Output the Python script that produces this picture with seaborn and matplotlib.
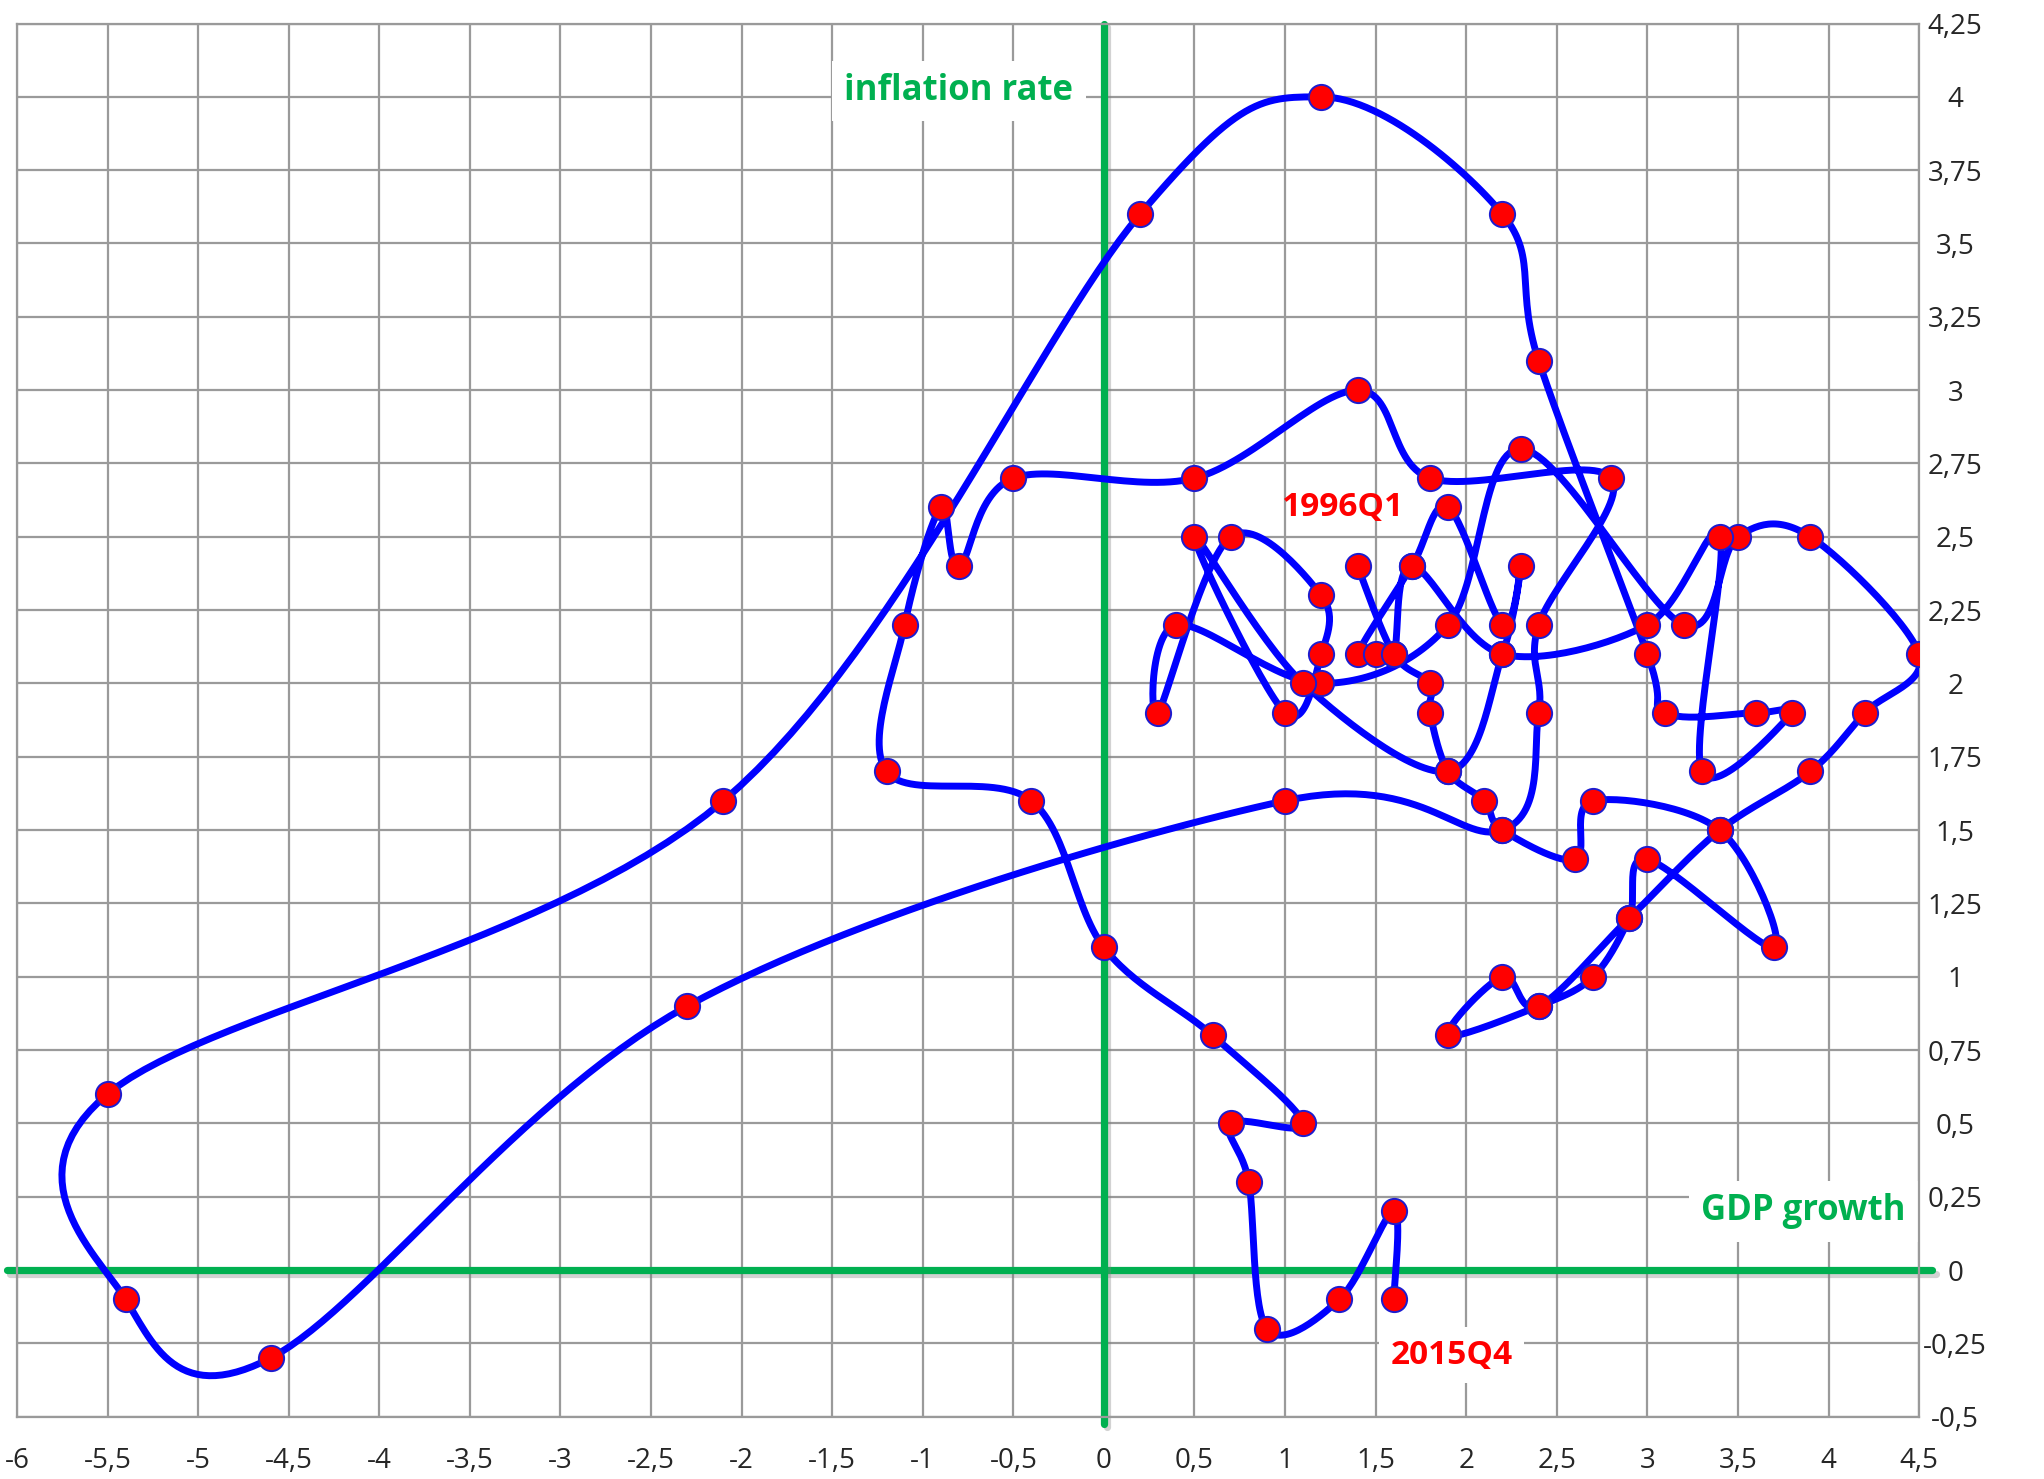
import numpy as np
import pandas as pd
import matplotlib
matplotlib.use("Agg")
import matplotlib.pyplot as plt
import matplotlib.patheffects as pe
import seaborn as sns

# Quarterly path 1996Q1 -> 2015Q4
gdp_growth = [
    1.4, 1.6, 1.8, 1.8, 1.9, 2.1, 2.2, 2.6, 2.7, 3.4, 3.7, 3.0, 2.9, 2.7, 2.4,
    1.9, 2.2, 2.4, 2.9, 3.4, 3.9, 4.2, 4.5, 3.9, 3.5, 3.2, 2.3, 1.9, 1.2, 0.4,
    0.3, 0.7, 1.2, 1.2, 1.0, 0.5, 1.1, 1.9, 2.2, 2.3, 2.2, 1.9, 1.7, 1.4, 1.5,
    1.6, 1.7, 2.2, 3.0, 3.4, 3.3, 3.8, 3.6, 3.1, 3.0, 2.4, 2.2, 1.2, 0.2, -2.1,
    -5.5, -5.4, -4.6, -2.3, 1.0, 2.2, 2.4, 2.4, 2.8, 1.8, 1.4, 0.5, -0.5, -0.8,
    -0.9, -1.1, -1.2, -0.4, 0.0, 0.6, 1.1, 0.7, 0.8, 0.9, 1.3, 1.6, 1.6,
]
inflation = [
    2.4, 2.1, 2.0, 1.9, 1.7, 1.6, 1.5, 1.4, 1.6, 1.5, 1.1, 1.4, 1.2, 1.0, 0.9,
    0.8, 1.0, 0.9, 1.2, 1.5, 1.7, 1.9, 2.1, 2.5, 2.5, 2.2, 2.8, 2.2, 2.0, 2.2,
    1.9, 2.5, 2.3, 2.1, 1.9, 2.5, 2.0, 1.7, 2.1, 2.4, 2.2, 2.6, 2.4, 2.1, 2.1,
    2.1, 2.4, 2.1, 2.2, 2.5, 1.7, 1.9, 1.9, 1.9, 2.1, 3.1, 3.6, 4.0, 3.6, 1.6,
    0.6, -0.1, -0.3, 0.9, 1.6, 1.5, 1.9, 2.2, 2.7, 2.7, 3.0, 2.7, 2.7, 2.4,
    2.6, 2.2, 1.7, 1.6, 1.1, 0.8, 0.5, 0.5, 0.3, -0.2, -0.1, 0.2, -0.1,
]

x_ticks = np.arange(-6, 4.51, 0.5)
y_ticks = np.arange(-0.5, 4.26, 0.25)

GREEN = "#00B050"
GRID = "#9A9A9A"


def smooth_path(x, y, steps=30):
    """Excel-like smoothed line: cubic Bezier segments with Catmull-Rom handles."""
    pts = np.column_stack([x, y]).astype(float)
    ext = np.vstack([pts[0], pts, pts[-1]])
    t = np.linspace(0, 1, steps, endpoint=False)[:, None]
    segs = []
    for i in range(1, len(ext) - 2):
        p0, p1, p2, p3 = ext[i - 1], ext[i], ext[i + 1], ext[i + 2]
        c1 = p1 + (p2 - p0) / 6
        c2 = p2 - (p3 - p1) / 6
        segs.append((1 - t) ** 3 * p1 + 3 * (1 - t) ** 2 * t * c1
                    + 3 * (1 - t) * t ** 2 * c2 + t ** 3 * p2)
    segs.append(pts[-1:])
    return np.vstack(segs)


def fmt(v):
    return f"{v:g}".replace(".", ",")


sns.set_style("white")
plt.rcParams["font.family"] = ["Open Sans", "DejaVu Sans"]

points = pd.DataFrame({"gdp": gdp_growth, "infl": inflation})
curve = pd.DataFrame(smooth_path(gdp_growth, inflation), columns=["gdp", "infl"])

fig = plt.figure(figsize=(20.44, 14.79), dpi=100)
ax = fig.add_axes([0.0083, 0.0421, 0.9306, 0.942])

ax.set_xlim(-6, 4.5)
ax.set_ylim(-0.5, 4.25)
ax.set_xticks(x_ticks)
ax.set_yticks(y_ticks)
ax.set_xticklabels([fmt(v) for v in x_ticks])
ax.set_yticklabels([fmt(v) for v in y_ticks])
ax.grid(True, color=GRID, linewidth=1.6, zorder=0)
for sp in ax.spines.values():
    sp.set_color(GRID)
    sp.set_linewidth(1.6)

ax.tick_params(axis="x", length=0, pad=22, labelsize=20)
ax.tick_params(axis="y", length=0, pad=26, labelsize=20,
               left=False, labelleft=False, right=True, labelright=True)
for lab in ax.get_yticklabels():
    lab.set_horizontalalignment("center")

# coordinate axes in green with a soft shadow
shadow = [pe.SimpleLineShadow(offset=(2.5, -2.5), shadow_color="grey", alpha=0.35), pe.Normal()]
ax.axhline(0, xmin=-0.0055, xmax=1.0068, color=GREEN, linewidth=5.2,
           clip_on=False, zorder=2, path_effects=shadow)
ax.axvline(0, ymin=-0.005, ymax=1.0, color=GREEN, linewidth=5.2,
           clip_on=False, zorder=2, path_effects=shadow)

sns.lineplot(data=curve, x="gdp", y="infl", sort=False, estimator=None,
             color="#0000FF", linewidth=5.0, ax=ax, zorder=3)
sns.scatterplot(data=points, x="gdp", y="infl", s=330, color="#FF0000",
                edgecolor="#1C1CD0", linewidth=1.4, ax=ax, zorder=4)

ax.set_xlabel("")
ax.set_ylabel("")

box = dict(facecolor="white", edgecolor="none", boxstyle="square,pad=0.35")
ax.text(-0.8, 4.02, "inflation rate", color=GREEN, fontsize=25, fontweight="bold",
        ha="center", va="center", bbox=box, zorder=2.5)
ax.text(3.86, 0.20, "GDP growth", color=GREEN, fontsize=25, fontweight="bold",
        ha="center", va="center", bbox=box, zorder=2.5)
ax.text(1.32, 2.60, "1996Q1", color="#FF0000", fontsize=24, fontweight="bold",
        ha="center", va="center", zorder=5)
ax.text(1.92, -0.29, "2015Q4", color="#FF0000", fontsize=24, fontweight="bold",
        ha="center", va="center", bbox=box, zorder=2.5)

fig.savefig("out.png", dpi=100)
